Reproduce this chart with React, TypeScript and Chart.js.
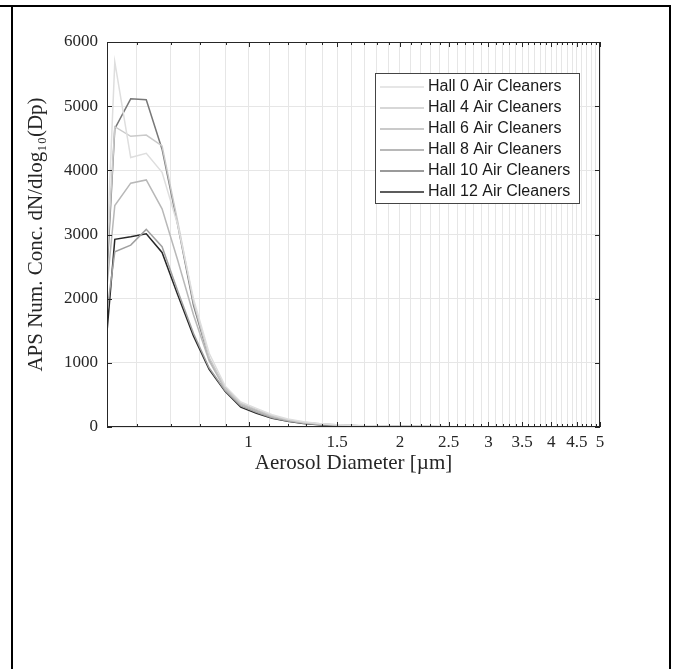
import React, { useEffect, useRef } from "react";
import { Chart, registerables } from "chart.js";

Chart.register(...registerables);

// APS channel midpoints (µm)
const diameters = [
  0.523, 0.542, 0.583, 0.626, 0.673, 0.723, 0.777, 0.835, 0.898, 0.965,
  1.037, 1.114, 1.197, 1.286, 1.382, 1.486, 1.596, 1.715, 1.843, 1.981,
  2.129, 2.288, 2.458, 2.642, 2.839, 3.051, 3.278, 3.523, 3.786, 4.068,
  4.371, 4.698, 5.048,
];

const hall0 = [2800, 5690, 4200, 4265, 3970, 3150, 2000, 1150, 640, 390, 290, 190, 125, 82, 55, 38, 27, 20, 15, 11, 9, 7, 6, 5, 4, 3, 3, 2, 2, 2, 1, 1, 1];
const hall4 = [2600, 4680, 4530, 4550, 4380, 3200, 1950, 1080, 610, 370, 270, 175, 115, 75, 50, 35, 25, 18, 13, 10, 8, 6, 5, 4, 3, 3, 2, 2, 2, 1, 1, 1, 1];
const hall6 = [2200, 3450, 3800, 3850, 3400, 2600, 1750, 1030, 590, 350, 250, 160, 105, 68, 45, 31, 22, 16, 12, 9, 7, 6, 5, 4, 3, 2, 2, 2, 1, 1, 1, 1, 1];
const hall8 = [1800, 2730, 2835, 3080, 2810, 2120, 1460, 920, 570, 330, 230, 145, 95, 60, 40, 27, 19, 14, 10, 8, 6, 5, 4, 3, 3, 2, 2, 1, 1, 1, 1, 1, 0];
const hall10 = [2400, 4650, 5115, 5100, 4330, 3150, 1900, 1060, 610, 360, 260, 170, 110, 72, 48, 33, 24, 17, 13, 10, 8, 6, 5, 4, 3, 3, 2, 2, 1, 1, 1, 1, 1];
const hall12 = [1480, 2925, 2965, 3010, 2720, 2060, 1420, 900, 555, 310, 215, 135, 88, 55, 36, 25, 17, 12, 9, 7, 5, 4, 3, 3, 2, 2, 1, 1, 1, 1, 1, 0, 0];

const seriesLabels = [
  "Hall 0 Air Cleaners",
  "Hall 4 Air Cleaners",
  "Hall 6 Air Cleaners",
  "Hall 8 Air Cleaners",
  "Hall 10 Air Cleaners",
  "Hall 12 Air Cleaners",
];
const seriesValues = [hall0, hall4, hall6, hall8, hall10, hall12];
const seriesColors = ["#dedede", "#cacaca", "#b8b8b8", "#a0a0a0", "#787878", "#262626"];

const xGridValues = [
  0.6, 0.7, 0.8, 0.9, 1.0, 1.1, 1.2, 1.3, 1.4, 1.5, 1.6, 1.7, 1.8, 1.9, 2.0,
  2.1, 2.2, 2.3, 2.4, 2.5, 2.6, 2.7, 2.8, 2.9, 3.0, 3.1, 3.2, 3.3, 3.4, 3.5,
  3.6, 3.7, 3.8, 3.9, 4.0, 4.1, 4.2, 4.3, 4.4, 4.5, 4.6, 4.7, 4.8, 4.9, 5.0,
];
const xTickLabels = [1, 1.5, 2, 2.5, 3, 3.5, 4, 4.5, 5];
const yTickValues = [0, 1000, 2000, 3000, 4000, 5000, 6000];

const X_MIN = 0.523;
const X_MAX = 5.0;
const W = 676;
const H = 669;
const AREA = { left: 107, right: 600, top: 42, bottom: 427 };

const SERIF = "'Liberation Serif', 'Times New Roman', serif";
const SANS = "'Liberation Sans', Arial, sans-serif";
const TEXT = "#262626";

const isLabeled = (v: number) => xTickLabels.some((t) => Math.abs(t - v) < 1e-6);

const boxPlugin = {
  id: "matlabBox",
  afterDraw(chart: any) {
    const { ctx, chartArea: a, scales } = chart;
    ctx.save();
    ctx.strokeStyle = TEXT;
    ctx.lineWidth = 1;
    ctx.strokeRect(a.left + 0.5, a.top + 0.5, a.right - a.left - 1, a.bottom - a.top - 1);
    ctx.beginPath();
    scales.x.ticks.forEach((t: any) => {
      const px = Math.round(scales.x.getPixelForValue(t.value)) + 0.5;
      const len = isLabeled(t.value) ? 5 : 3;
      ctx.moveTo(px, a.bottom);
      ctx.lineTo(px, a.bottom - len);
      ctx.moveTo(px, a.top);
      ctx.lineTo(px, a.top + len);
    });
    scales.y.ticks.forEach((t: any) => {
      const py = Math.round(scales.y.getPixelForValue(t.value)) + 0.5;
      ctx.moveTo(a.left, py);
      ctx.lineTo(a.left + 5, py);
      ctx.moveTo(a.right, py);
      ctx.lineTo(a.right - 5, py);
    });
    ctx.stroke();

    // legend
    const lx = 375, ly = 73, lw = 204, lh = 130;
    ctx.fillStyle = "#ffffff";
    ctx.fillRect(lx, ly, lw, lh);
    ctx.strokeStyle = "#444444";
    ctx.strokeRect(lx + 0.5, ly + 0.5, lw, lh);
    ctx.font = `16px ${SANS}`;
    ctx.textBaseline = "middle";
    ctx.textAlign = "left";
    chart.data.datasets.forEach((ds: any, i: number) => {
      const ry = ly + 14 + i * 21;
      ctx.strokeStyle = ds.borderColor;
      ctx.lineWidth = 1.5;
      ctx.beginPath();
      ctx.moveTo(lx + 5, ry);
      ctx.lineTo(lx + 49, ry);
      ctx.stroke();
      ctx.fillStyle = "#1a1a1a";
      ctx.fillText(ds.label, lx + 53, ry);
    });
    ctx.restore();
  },
};

export default function App() {
  const ref = useRef<HTMLCanvasElement | null>(null);

  useEffect(() => {
    if (!ref.current) return;
    const datasets = seriesValues.map((vals, i) => ({
      label: seriesLabels[i],
      data: vals.map((v, j) => ({ x: diameters[j], y: v })),
      borderColor: seriesColors[i],
      backgroundColor: seriesColors[i],
      borderWidth: 1.5,
      pointRadius: 0,
      tension: 0,
      fill: false,
    }));

    const chart = new Chart(ref.current, {
      type: "line",
      data: { datasets },
      plugins: [boxPlugin],
      options: {
        animation: false,
        responsive: false,
        devicePixelRatio: 1,
        layout: {
          padding: { left: 0, right: W - AREA.right, top: AREA.top, bottom: 0 },
        },
        plugins: {
          legend: { display: false },
          tooltip: { enabled: false },
        },
        scales: {
          x: {
            type: "logarithmic",
            min: X_MIN,
            max: X_MAX,
            afterBuildTicks: (scale: any) => {
              scale.ticks = xGridValues.map((v) => ({ value: v }));
            },
            afterFit: (scale: any) => {
              scale.height = H - AREA.bottom;
            },
            ticks: {
              autoSkip: false,
              maxRotation: 0,
              padding: 5,
              color: TEXT,
              font: { family: SERIF, size: 17 },
              callback: (v: any) => {
                const n = Number(v);
                return isLabeled(n) ? String(xTickLabels.find((t) => Math.abs(t - n) < 1e-6)) : "";
              },
            },
            grid: {
              color: "#e6e6e6",
              drawTicks: false,
            },
            border: { display: false },
            title: {
              display: true,
              text: "Aerosol Diameter [µm]",
              color: TEXT,
              font: { family: SERIF, size: 21 },
              padding: { top: 0, bottom: 193 },
            },
          },
          y: {
            type: "linear",
            min: 0,
            max: 6000,
            afterBuildTicks: (scale: any) => {
              scale.ticks = yTickValues.map((v) => ({ value: v }));
            },
            afterFit: (scale: any) => {
              scale.width = AREA.left;
            },
            ticks: {
              padding: 9,
              color: TEXT,
              font: { family: SERIF, size: 17 },
              callback: (v: any) => String(v),
            },
            grid: {
              color: "#e6e6e6",
              drawTicks: false,
            },
            border: { display: false },
            title: {
              display: true,
              text: "APS Num. Conc. dN/dlog₁₀(Dp)",
              color: TEXT,
              font: { family: SERIF, size: 21 },
              padding: { top: 24, bottom: 0 },
            },
          },
        },
      },
    });
    return () => chart.destroy();
  }, []);

  return (
    <div style={{ position: "fixed", left: 0, top: 0, width: W, height: H, background: "#fff" }}>
      <canvas ref={ref} width={W} height={H} style={{ position: "absolute", left: 0, top: 0, width: W, height: H }} />
      <div style={{ position: "absolute", left: 0, top: 5, width: 671, height: 2, background: "#000" }} />
      <div style={{ position: "absolute", left: 11, top: 5, width: 2, height: H - 5, background: "#000" }} />
      <div style={{ position: "absolute", left: 669, top: 5, width: 2, height: H - 5, background: "#000" }} />
    </div>
  );
}
